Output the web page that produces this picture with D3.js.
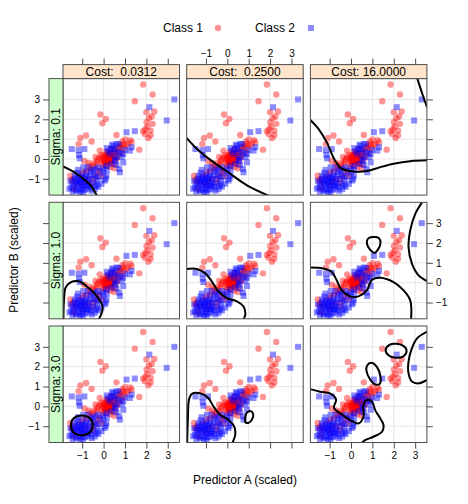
<!DOCTYPE html>
<html><head><meta charset="utf-8">
<script src="https://cdn.jsdelivr.net/npm/d3@7"></script>
<style>
body{margin:0;background:#fff;}
text{font-family:"Liberation Sans",Arial,Helvetica,sans-serif;}
</style></head>
<body><svg id="chart" width="468" height="504"></svg>
<script>
// ---------- data ----------
const costLabels = ["Cost:  0.0312", "Cost:  0.2500", "Cost: 16.0000"];
const sigmaLabels = ["Sigma: 0.1", "Sigma: 1.0", "Sigma: 3.0"];
const tickValues = [-1, 0, 1, 2, 3];
const classLabels = ["Class 1", "Class 2"];

const class1 = [
 [1.85,3.75],[2.29,3.25],[1.46,2.91],[2.0,2.36],[2.37,2.39],[2.25,2.14],[2.12,2.05],[2.01,1.85],
 [2.29,1.77],[2.05,1.62],[2.2,1.43],[1.85,1.40],[1.93,1.26],[2.09,1.06],[2.2,1.2],[1.95,1.5],
 [-0.15,2.24],[0.1,2.02],[-0.06,1.80],[0.6,1.21],[-0.82,1.18],[-1.09,1.06],[-1.17,0.76],[-0.56,0.88],
 [1.67,0.47],[1.31,0.84],[1.01,0.98],[0.92,0.76],[1.15,0.76],[0.88,0.88],[0.76,0.59],[0.6,0.37],
 [0.68,0.17],[0.45,0.08],[0.37,-0.08],[0.29,0.17],[0.21,0.0],[0.13,0.34],[0.05,-0.17],[-0.02,-0.08],
 [-0.18,0.08],[-0.34,-0.25],[-0.49,-0.37],[-0.65,-0.34],[0.52,-0.25],[0.49,-0.47],[-0.18,0.42],[-0.1,0.2],
 [-0.8,-0.59],[-0.96,-0.67],[-1.12,-0.84],[-1.43,-1.0],[-1.56,-0.84],[-0.41,-0.93],[-0.1,-0.84],
 [0.15,0.05],[0.2,-0.1],[0.1,0.1],[0.25,0.05],[0.3,-0.15],[0.05,0.0],[0.18,-0.2],[0.35,0.25],
 [0.4,0.3],[0.0,-0.3],[-0.1,-0.2],[0.1,-0.35],[0.22,0.22],[0.5,0.2],[0.55,0.45],[0.7,0.6],
 [0.8,0.7],[0.95,0.55],[1.05,0.7],[0.85,0.35],[-0.25,0.0],[-0.3,-0.1],[-0.45,-0.2],[-0.6,-0.5],
 [-0.7,-0.2],[-0.2,-0.55],[0.3,-0.4],[0.0,0.15],[0.12,-0.05],[0.28,-0.02],[0.16,0.12],[0.08,-0.12],
 [-1.3,-1.2],[-1.5,-1.1],[-1.0,-1.3],[-0.7,-1.0],[-0.5,-1.2],[-1.4,-1.5],[-0.9,-1.1],[-0.3,-0.7],
 [1.25,0.95],[-0.9,-0.1],[0.62,0.02],[-0.38,0.1],[0.33,0.5],
 [0.2,0.1],[0.25,-0.05],[0.32,0.08],[0.15,-0.08],[0.38,0.12],[0.1,0.22],[0.27,0.3],[0.42,-0.02],
 [0.05,0.08],[0.18,0.28],[-0.05,0.05],[0.35,-0.22]
];
const class2 = [
 [3.31,3.0],[2.14,2.61],[2.95,1.94],[1.07,1.35],[1.46,1.4],[-1.49,0.5],[-1.17,0.45],[-0.9,0.5],
 [-1.15,0.2],[-1.12,0.03],[0.4,0.72],[0.6,0.76],[0.45,0.5],[0.68,0.42],[0.99,0.45],[1.23,0.42],
 [1.31,0.59],[0.92,0.25],[0.92,-0.17],[0.73,-0.5],[0.76,-0.67],[0.29,0.25],[0.13,-0.34],[-0.02,-0.47],
 [-0.26,-0.42],[-0.41,-0.5],[-0.73,-0.42],[-0.95,-0.42],[0.37,-0.25],[0.52,0.0],[0.05,-1.09],[0.13,-0.84],
 [-0.34,-1.35],[-0.41,-1.52],[-0.7,-1.5],[-0.96,-1.68],[-1.25,-1.6],[-1.51,-1.43],[-1.45,-1.2],[-1.35,-0.85],
 [-1.2,-1.0],[-1.05,-1.05],[-1.1,-1.2],[-1.2,-1.3],[-1.0,-1.4],[-0.9,-1.2],[-1.3,-1.1],[-1.15,-1.5],
 [-0.8,-1.3],[-0.7,-1.15],[-0.6,-1.4],[-0.5,-1.0],[-0.3,-1.1],[-0.2,-0.9],[-0.45,-0.8],[-0.65,-0.85],
 [-0.85,-0.9],[-1.0,-0.75],[-1.4,-1.35],[-1.55,-1.1],[-1.6,-1.5],[-1.3,-1.55],[-0.85,-1.55],[-0.55,-1.6],
 [-0.25,-1.4],[-0.1,-1.25],[0.0,-0.7],[-0.15,-0.6],[-0.6,-0.65],[-0.8,-0.7],[-1.0,-0.95],[-1.25,-0.7],
 [-0.35,-0.85],[-0.75,-1.0],[-0.95,-1.35],[-1.1,-1.7],[-1.45,-1.65],[-0.4,-1.25],[0.1,-1.0],[-1.2,-0.55],
 [-0.5,-0.55],[-1.05,-1.15],[-0.65,-1.25],[-1.35,-1.0],[0.2,0.4],[0.35,0.5],[0.15,0.55],[0.5,0.35],
 [0.6,0.1],[0.75,0.3],[0.85,0.1],[0.55,-0.1],
 [0.45,0.65],[0.7,0.75],[0.6,-0.3],[0.15,-0.55],
 [-1.15,-0.9],[-0.9,-1.0],[-1.25,-1.25],[-0.75,-1.35],[-1.0,-1.55]
];

// decision boundaries per panel [row][col]
const boundaries = [
 [ // sigma 0.1
  [{closed:false, pts:[[-1.9,-0.37],[-1.42,-0.64],[-0.95,-1.0],[-0.55,-1.4],[-0.3,-1.88]]}],
  [{closed:false, pts:[[-1.9,1.05],[-1.43,0.52],[-0.65,-0.16],[0.13,-0.74],[0.92,-1.33],[1.95,-1.86]]}],
  [{closed:false, pts:[[-1.9,1.97],[-1.53,1.53],[-1.14,0.85],[-0.75,-0.07],[-0.43,-0.49],[0.11,-0.63],[0.74,-0.61],[1.37,-0.41],[1.99,-0.24],[2.77,-0.11],[3.56,-0.07]]},
   {closed:false, pts:[[3.1,4.06],[3.33,3.3],[3.56,2.6]]}]
 ],
 [ // sigma 1.0
  [{closed:false, pts:[[-1.88,-1.84],[-1.85,-0.8],[-1.78,-0.25],[-1.6,-0.02],[-1.3,0.08],[-1.05,0.02],[-0.79,-0.19],[-0.5,-0.45],[-0.25,-0.78],[-0.06,-1.15],[-0.07,-1.45],[-0.22,-1.84]]}],
  [{closed:false, pts:[[-1.9,0.69],[-1.43,0.69],[-1.04,0.48],[-0.73,0.07],[-0.42,-0.44],[-0.02,-0.78],[0.45,-0.94],[0.76,-1.2],[0.84,-1.62],[0.76,-1.84]]}],
  [{closed:false, pts:[[-1.9,0.76],[-1.3,0.71],[-0.9,0.54],[-0.67,0.12],[-0.43,-0.39],[-0.04,-0.69],[0.35,-0.69],[0.74,-0.39],[0.98,0.15],[1.37,0.25],[1.99,0.03],[2.46,-0.39],[2.77,-0.89],[2.81,-1.84]]},
   {closed:true, pts:[[0.75,1.95],[0.78,2.2],[1.0,2.3],[1.3,2.25],[1.38,2.0],[1.25,1.65],[1.1,1.5],[0.9,1.65]]},
   {closed:false, pts:[[3.33,4.06],[3.01,3.48],[2.77,2.64],[2.69,1.8],[2.85,0.96],[3.16,0.37],[3.56,0.08]]}]
 ],
 [ // sigma 3.0
  [{closed:true, pts:[[-1.53,-0.96],[-1.4,-0.6],[-1.02,-0.46],[-0.62,-0.62],[-0.51,-0.96],[-0.65,-1.32],[-1.02,-1.46],[-1.4,-1.32]]}],
  [{closed:false, pts:[[-1.88,-1.84],[-1.84,-0.5],[-1.8,0.3],[-1.67,0.62],[-1.28,0.66],[-0.89,0.42],[-0.65,0.0],[-0.34,-0.42],[0.05,-0.67],[0.32,-1.01],[0.37,-1.43],[0.24,-1.84]]},
   {closed:true, pts:[[0.85,-0.8],[0.84,-0.55],[0.93,-0.3],[1.1,-0.24],[1.21,-0.4],[1.16,-0.65],[1.0,-0.83]]}],
  [{closed:false, pts:[[-1.9,0.87],[-1.45,0.74],[-0.98,0.66],[-0.7,0.35],[-0.8,-0.07],[-0.51,-0.35],[-0.04,-0.69],[0.35,-0.86],[0.58,-0.52],[0.58,0.07],[0.74,0.32],[0.98,0.24],[1.13,-0.19],[1.37,-0.61],[1.52,-0.94],[1.45,-1.28],[1.05,-1.53],[0.66,-1.7],[0.5,-1.84]]},
   {closed:true, pts:[[0.75,2.05],[0.95,2.2],[1.2,2.0],[1.38,1.5],[1.35,1.15],[1.15,1.1],[0.9,1.35],[0.72,1.8]]},
   {closed:true, pts:[[1.62,2.85],[1.8,3.1],[2.1,3.15],[2.45,3.05],[2.6,2.8],[2.45,2.52],[2.1,2.45],[1.75,2.58]]},
   {closed:false, pts:[[3.56,3.77],[3.09,3.43],[2.85,2.93],[2.69,2.26],[2.69,1.67],[2.85,1.25],[3.17,1.16],[3.56,1.33]]}]
 ]
];

// ---------- layout ----------
const svg = d3.select("#chart");
const colLeft = [63, 186.7, 310.4];
const rowTop = [78.6, 202.3, 326];
const pw = 116.5, ph = 116.5;
const stripH = 14, stripW = 14;
const tickLen = 6;
const borderCol = "#4d4d4d";
const red = "rgba(255,0,0,0.42)", blue = "rgba(0,0,255,0.45)";
const x = d3.scaleLinear().domain([-1.9, 3.55]).range([0, pw]);
const y = d3.scaleLinear().domain([-1.82, 4.05]).range([ph, 0]);
const fmt = d => d < 0 ? "\u2212" + Math.abs(d) : String(d);

const defs = svg.append("defs");
defs.append("clipPath").attr("id","pclip").append("rect").attr("width",pw).attr("height",ph);

function styleAxis(axg) {
  axg.select(".domain").remove();
  axg.selectAll("line").attr("stroke", borderCol);
  axg.selectAll("text").attr("font-size", 10)
    .attr("font-family", "Liberation Sans, Arial, sans-serif").attr("fill", "#000");
}

for (let r = 0; r < 3; r++) {
  for (let c = 0; c < 3; c++) {
    const g = svg.append("g").attr("transform", `translate(${colLeft[c]},${rowTop[r]})`);
    g.selectAll("line.gx").data(tickValues).join("line")
      .attr("x1", d => x(d)).attr("x2", d => x(d)).attr("y1", 0).attr("y2", ph)
      .attr("stroke", "#e6e6e6").attr("stroke-width", 1);
    g.selectAll("line.gy").data(tickValues).join("line")
      .attr("y1", d => y(d)).attr("y2", d => y(d)).attr("x1", 0).attr("x2", pw)
      .attr("stroke", "#e6e6e6").attr("stroke-width", 1);
    const inner = g.append("g").attr("clip-path", "url(#pclip)");
    inner.selectAll("circle").data(class1).join("circle")
      .attr("cx", d => x(d[0])).attr("cy", d => y(d[1])).attr("r", 3.2).attr("fill", red);
    inner.selectAll("rect.pt").data(class2).join("rect").attr("class","pt")
      .attr("x", d => x(d[0]) - 3).attr("y", d => y(d[1]) - 3)
      .attr("width", 6).attr("height", 6).attr("fill", blue);
    boundaries[r][c].forEach(b => {
      const line = d3.line().x(d => x(d[0])).y(d => y(d[1]))
        .curve(b.closed ? d3.curveCatmullRomClosed : d3.curveCatmullRom);
      inner.append("path").attr("d", line(b.pts)).attr("fill", "none")
        .attr("stroke", "#000").attr("stroke-width", 2);
    });
    g.append("rect").attr("width", pw).attr("height", ph).attr("fill", "none")
      .attr("stroke", borderCol).attr("stroke-width", 1);

    if (r === 0) {
      const sg = svg.append("g").attr("transform", `translate(${colLeft[c]},${rowTop[0] - stripH})`);
      sg.append("rect").attr("width", pw).attr("height", stripH).attr("fill", "#ffe5cc")
        .attr("stroke", borderCol).attr("stroke-width", 1);
      sg.append("text").attr("x", pw / 2).attr("y", stripH / 2 + 4.3).attr("text-anchor", "middle")
        .attr("font-size", 12).style("white-space", "pre").text(costLabels[c]);
      const axg = svg.append("g").attr("transform", `translate(${colLeft[c]},${rowTop[0] - stripH})`);
      axg.call(d3.axisTop(x).tickValues(tickValues).tickSize(tickLen).tickPadding(2)
        .tickFormat(c === 1 ? fmt : () => ""));
      styleAxis(axg);
    }
    if (c === 0) {
      const sg = svg.append("g").attr("transform", `translate(${colLeft[0] - stripW},${rowTop[r]})`);
      sg.append("rect").attr("width", stripW).attr("height", ph).attr("fill", "#ccffcc")
        .attr("stroke", borderCol).attr("stroke-width", 1);
      sg.append("text").attr("transform", `translate(${stripW / 2 + 4.3},${ph / 2}) rotate(-90)`)
        .attr("text-anchor", "middle").attr("font-size", 12).text(sigmaLabels[r]);
      const axg = svg.append("g").attr("transform", `translate(${colLeft[0] - stripW},${rowTop[r]})`);
      axg.call(d3.axisLeft(y).tickValues(tickValues).tickSize(tickLen).tickPadding(3)
        .tickFormat(r !== 1 ? fmt : () => ""));
      styleAxis(axg);
    }
    if (c === 2) {
      const axg = svg.append("g").attr("transform", `translate(${colLeft[2] + pw},${rowTop[r]})`);
      axg.call(d3.axisRight(y).tickValues(tickValues).tickSize(tickLen).tickPadding(3)
        .tickFormat(r === 1 ? fmt : () => ""));
      styleAxis(axg);
    }
    if (r === 2) {
      const axg = svg.append("g").attr("transform", `translate(${colLeft[c]},${rowTop[2] + ph})`);
      axg.call(d3.axisBottom(x).tickValues(tickValues).tickSize(tickLen).tickPadding(3)
        .tickFormat(c !== 1 ? fmt : () => ""));
      styleAxis(axg);
    }
  }
}

// legend
const lg = svg.append("g");
lg.append("text").attr("x", 163).attr("y", 32).attr("font-size", 12).text(classLabels[0]);
lg.append("circle").attr("cx", 218).attr("cy", 28).attr("r", 3.2).attr("fill", red);
lg.append("text").attr("x", 255).attr("y", 32).attr("font-size", 12).text(classLabels[1]);
lg.append("rect").attr("x", 311 - 3).attr("y", 28 - 3).attr("width", 6).attr("height", 6).attr("fill", blue);

// axis titles
svg.append("text").attr("x", 245).attr("y", 484).attr("text-anchor", "middle").attr("font-size", 12)
  .text("Predictor A (scaled)");
svg.append("text").attr("transform", "translate(18,260) rotate(-90)").attr("text-anchor", "middle")
  .attr("font-size", 12).text("Predictor B (scaled)");
</script></body></html>
